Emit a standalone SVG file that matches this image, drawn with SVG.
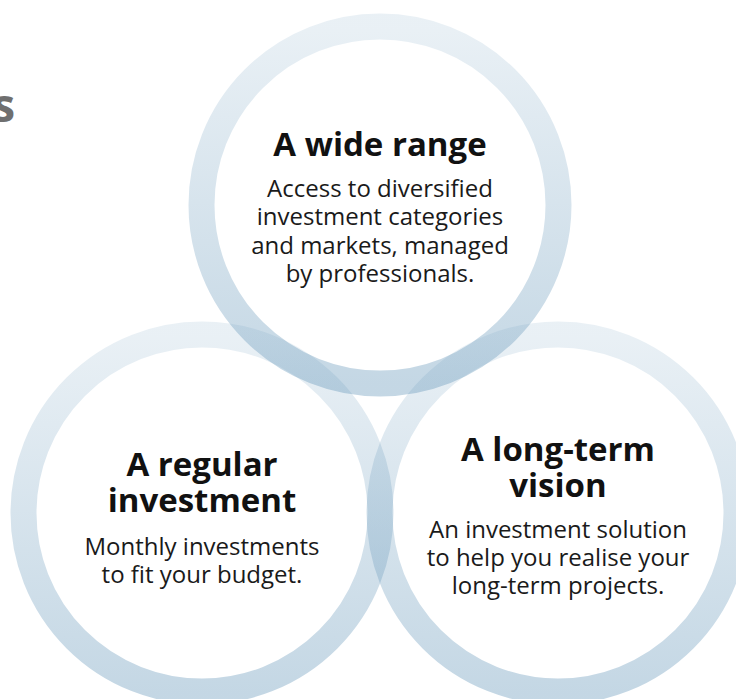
<svg xmlns="http://www.w3.org/2000/svg" width="736" height="699" viewBox="0 0 736 699">
  <defs>
    <linearGradient id="ringGrad" x1="0" y1="0" x2="0" y2="1">
      <stop offset="0" stop-color="rgb(100,150,185)" stop-opacity="0.14"/>
      <stop offset="1" stop-color="rgb(100,150,185)" stop-opacity="0.38"/>
    </linearGradient>
  </defs>
  <style>
    .ring { fill: none; stroke: url(#ringGrad); stroke-width: 26; }
    .head { font-family: "Open Sans", "Noto Sans", sans-serif; font-weight: bold; font-size: 33px; fill: #111; text-anchor: middle; }
    .body { font-family: "Open Sans", "Noto Sans", sans-serif; font-size: 24px; fill: #1a1a1a; text-anchor: middle; }
    .cut { font-family: "Open Sans", "Noto Sans", sans-serif; font-weight: bold; font-size: 46px; fill: #6f6f6f; text-anchor: end; }
  </style>
  <rect width="736" height="699" fill="#ffffff"/>
  <text class="cut" x="15" y="122">s</text>
  <g id="connectors"/>
  <g id="node-wide-range">
    <circle class="ring" cx="380" cy="205" r="178.5"/>
    <text class="head" x="380" y="156">A wide range</text>
    <text class="body" x="380" y="197">Access to diversified</text>
    <text class="body" x="380" y="225">investment categories</text>
    <text class="body" x="380" y="254">and markets, managed</text>
    <text class="body" x="380" y="282">by professionals.</text>
  </g>
  <g id="node-regular-investment">
    <circle class="ring" cx="202" cy="513" r="178.5"/>
    <text class="head" x="202" y="476">A regular</text>
    <text class="head" x="202" y="512">investment</text>
    <text class="body" x="202" y="555">Monthly investments</text>
    <text class="body" x="202" y="583">to fit your budget.</text>
  </g>
  <g id="node-long-term">
    <circle class="ring" cx="558" cy="513" r="178.5"/>
    <text class="head" x="558" y="461">A long-term</text>
    <text class="head" x="558" y="497">vision</text>
    <text class="body" x="558" y="538">An investment solution</text>
    <text class="body" x="558" y="566">to help you realise your</text>
    <text class="body" x="558" y="594">long-term projects.</text>
  </g>
</svg>
